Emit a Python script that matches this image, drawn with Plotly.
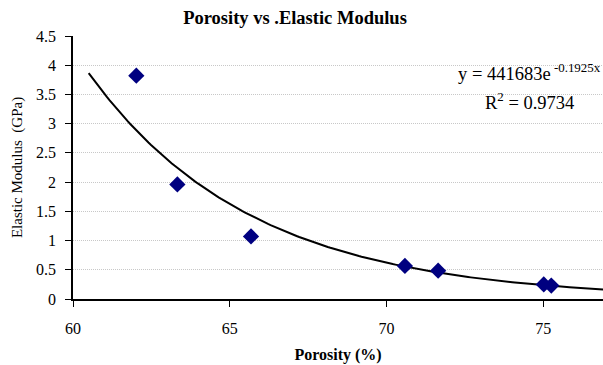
import numpy as np
import plotly.graph_objects as go

# Data
porosity = [62.02, 63.33, 65.68, 70.59, 71.65, 75.02, 75.26]
modulus = [3.82, 1.96, 1.07, 0.565, 0.485, 0.25, 0.23]

# Exponential trendline coefficients as shown on the chart
trend_a = 441683
trend_b = -0.1925
trend_r2 = 0.9734
trend_x = np.linspace(60.5, 77.0, 200)
trend_y = trend_a * np.exp(trend_b * trend_x)

x_ticks = [60, 65, 70, 75]
y_ticks = [0, 0.5, 1, 1.5, 2, 2.5, 3, 3.5, 4, 4.5]

FONT = "Liberation Serif"

fig = go.Figure()
fig.add_trace(go.Scatter(
    x=trend_x, y=trend_y, mode="lines",
    line=dict(color="black", width=2), hoverinfo="skip", showlegend=False))
fig.add_trace(go.Scatter(
    x=porosity, y=modulus, mode="markers",
    marker=dict(symbol="diamond", size=12.5, color="#000080"),
    showlegend=False))

fig.update_layout(
    width=603, height=365,
    margin=dict(l=72.5, r=0, t=36, b=66),
    paper_bgcolor="white", plot_bgcolor="white",
    font=dict(family=FONT, size=16, color="black"),
    title=dict(text="<b>Porosity vs .Elastic Modulus</b>",
               x=295 / 603, xref="container", xanchor="center",
               y=1 - 18 / 365, yref="container", yanchor="middle",
               font=dict(family=FONT, size=18.5, color="black")),
    xaxis=dict(range=[60, 76.91], tickvals=x_ticks, ticks="outside", ticklen=6,
               tickcolor="black", showline=True, linecolor="black", linewidth=1.5,
               showgrid=False, zeroline=False, ticklabelstandoff=8,
               title=dict(text="<b>Porosity (%)</b>", standoff=13,
                          font=dict(family=FONT, size=16))),
    yaxis=dict(range=[0, 4.5], tickvals=y_ticks, ticks="outside", ticklen=6,
               tickcolor="black", showline=True, linecolor="black", linewidth=1.5,
               showgrid=True, gridcolor="#c8c8c8", griddash="1px,1px", gridwidth=1,
               zeroline=False, ticklabelstandoff=6,
               title=dict(text="Elastic Modulus  (GPa)", standoff=10,
                          font=dict(family=FONT, size=15))),
)

fig.add_annotation(
    x=0.862, y=0.863, xref="paper", yref="paper", xanchor="center", yanchor="middle",
    text=f"y = {trend_a}e<sup> {trend_b}x</sup>", showarrow=False,
    font=dict(family=FONT, size=18.5, color="black"))
fig.add_annotation(
    x=0.862, y=0.753, xref="paper", yref="paper", xanchor="center", yanchor="middle",
    text=f"R<sup>2</sup> = {trend_r2}", showarrow=False,
    font=dict(family=FONT, size=18.5, color="black"))

fig.write_html("out.html")
